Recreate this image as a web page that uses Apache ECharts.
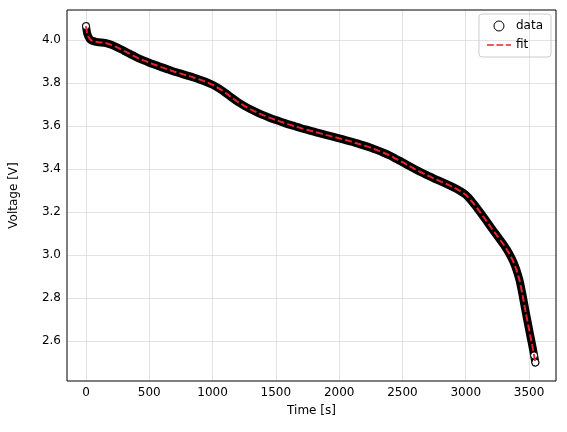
<!DOCTYPE html><html><head><meta charset="utf-8"><script src="https://cdn.jsdelivr.net/npm/echarts@6/dist/echarts.min.js"></script>
<style>html,body{margin:0;padding:0;background:#fff}#c{width:567px;height:432px}</style></head><body><div id="c"></div><script>
const times=[0,5,10,20,30,45,60,80,100,150,200,250,300,350,400,450,500,550,600,650,700,750,800,850,900,950,1000,1050,1100,1150,1200,1250,1300,1350,1400,1450,1500,1550,1600,1650,1700,1750,1800,1850,1900,1950,2000,2050,2100,2150,2200,2250,2300,2350,2400,2450,2500,2550,2600,2650,2700,2750,2800,2850,2900,2950,3000,3050,3100,3150,3200,3250,3300,3325,3350,3375,3400,3425,3450,3475,3500,3510,3520,3530,3540,3550];
const dataV=[4.065,4.045,4.03,4.015,4.005,3.998,3.995,3.992,3.99,3.987,3.978,3.965,3.95,3.935,3.92,3.907,3.895,3.884,3.873,3.863,3.853,3.844,3.835,3.826,3.816,3.805,3.792,3.775,3.755,3.733,3.712,3.694,3.678,3.664,3.651,3.639,3.628,3.618,3.608,3.599,3.59,3.582,3.574,3.566,3.558,3.551,3.543,3.535,3.527,3.518,3.509,3.499,3.488,3.476,3.463,3.447,3.432,3.415,3.399,3.384,3.37,3.356,3.343,3.33,3.316,3.30,3.28,3.248,3.21,3.17,3.128,3.088,3.048,3.025,3.0,2.97,2.932,2.882,2.81,2.73,2.655,2.625,2.595,2.565,2.533,2.50];
const fitV=dataV.slice();
const xTicks=[0,500,1000,1500,2000,2500,3000,3500];
const yTicks=[2.6,2.8,3.0,3.2,3.4,3.6,3.8,4.0];
const F='DejaVu Sans';
const ch=echarts.init(document.getElementById('c'));
const dataPts=times.map((t,i)=>[t,dataV[i]]);
ch.setOption({animation:false,
grid:{left:65,right:11,top:10,bottom:51,show:true,borderColor:'#000',borderWidth:1,z:10},
legend:{right:16,top:14,orient:'vertical',itemGap:7,borderColor:'#ccc',borderWidth:1,borderRadius:3,padding:[6,8],textStyle:{fontFamily:F,fontSize:12,color:'#000'},itemWidth:24,itemHeight:10,
 data:[{name:'data',icon:'circle',itemStyle:{color:'#fff',borderColor:'#000',borderWidth:1}},
 {name:'fit',icon:'path://M0,0H8V2H0Z M11,0H19V2H11Z M22,0H28V2H22Z',itemStyle:{color:'#e8242a',borderWidth:0}}]},
xAxis:{type:'value',min:-150,max:3713,name:'Time [s]',nameLocation:'middle',nameGap:24,nameTextStyle:{fontFamily:F,fontSize:12,color:'#000'},
 axisLine:{show:false,onZero:false},axisTick:{show:false},splitLine:{show:false},axisLabel:{show:false}},
yAxis:{type:'value',min:2.414,max:4.14,name:'Voltage [V]',nameLocation:'middle',nameGap:47,nameTextStyle:{fontFamily:F,fontSize:12,color:'#000'},
 axisLine:{show:false,onZero:false},axisTick:{show:false},splitLine:{show:false},axisLabel:{show:false}},
series:[
{type:'line',name:'xgrid',silent:true,data:[],z:1,markLine:{symbol:'none',silent:true,z:1,label:{show:true,position:'start',formatter:p=>String(p.value),fontFamily:F,fontSize:12,color:'#000',distance:6},lineStyle:{color:'#dcdcdc',width:0.8,type:'solid'},data:xTicks.map(v=>({xAxis:v}))}},
{type:'line',name:'ygrid',silent:true,data:[],z:1,markLine:{symbol:'none',silent:true,z:1,label:{show:true,position:'start',formatter:p=>p.value.toFixed(1),fontFamily:F,fontSize:12,color:'#000',distance:6},lineStyle:{color:'#dcdcdc',width:0.8,type:'solid'},data:yTicks.map(v=>({yAxis:v}))}},
{type:'line',name:'band',silent:true,symbol:'none',smooth:0.3,lineStyle:{color:'#000',width:8,cap:'round',join:'round'},data:dataPts,z:5},
{type:'scatter',name:'data',symbol:'circle',symbolSize:7,itemStyle:{color:'#fff',borderColor:'#000',borderWidth:1,opacity:1},data:[dataPts[0],dataPts[dataPts.length-2],dataPts[dataPts.length-1]],z:6},
{type:'line',name:'fit',symbol:'none',smooth:0.3,lineStyle:{color:'#e8242a',width:2,type:[7,3]},itemStyle:{color:'#e8242a'},data:times.map((t,i)=>[t,fitV[i]]),z:7}
]});
</script></body></html>
